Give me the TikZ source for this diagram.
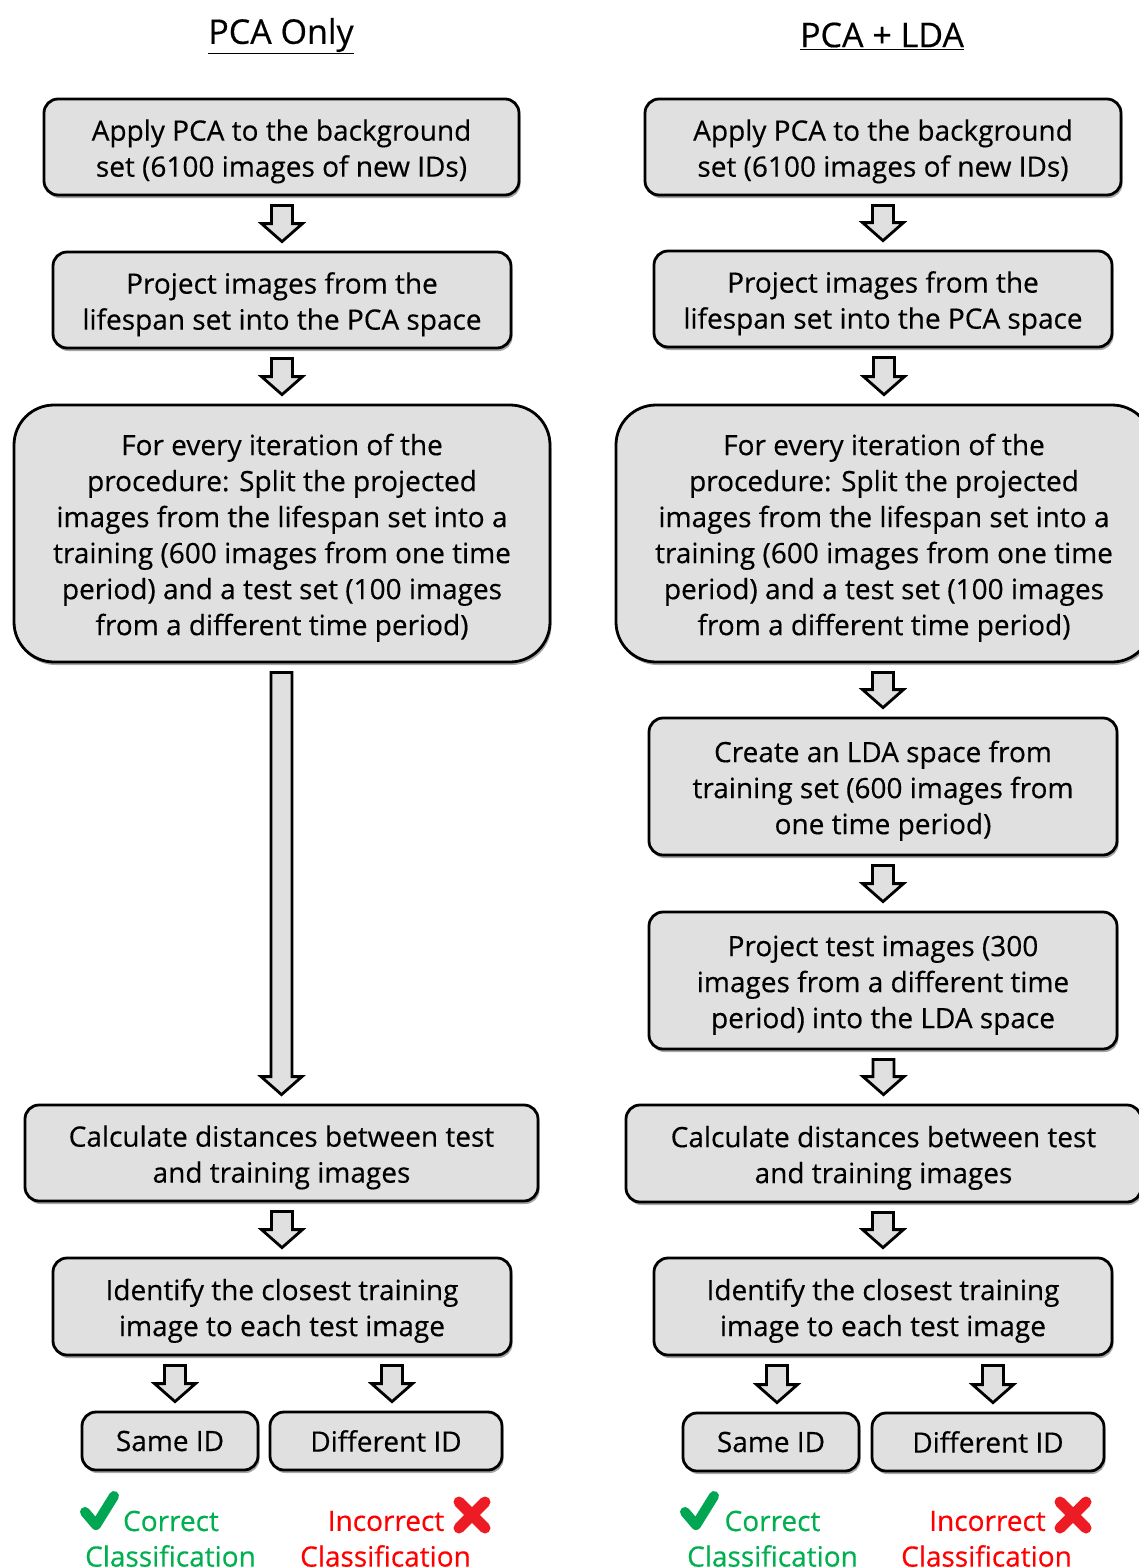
\documentclass[tikz,border=0pt]{standalone}
\usepackage{fontspec}
\setmainfont[FakeBold=0.4]{Open Sans}
\usetikzlibrary{calc,shadows}
\definecolor{boxgray}{HTML}{E0E0E0}
\definecolor{okgreen}{HTML}{00B050}
\definecolor{ckgreen}{HTML}{00A651}
\definecolor{badred}{HTML}{FF0000}
\definecolor{xred}{HTML}{ED1C24}
% strut that lowers a multi-line text block a little inside its box
\newcommand\tup{\rule{0pt}{30pt}}
% block arrow: #1 xshift (pt), #2 source node, #3 target node
\newcommand\barrow[3][0]{%
  \draw[blockarrow] let \p1=(#2.south), \p2=(#3.north) in
    ({\x2+#1pt-10.5pt},{\y1-9pt}) -- ({\x2+#1pt+10.5pt},{\y1-9pt})
    -- ({\x2+#1pt+10.5pt},{\y2+27pt}) -- ({\x2+#1pt+20.5pt},{\y2+27pt})
    -- ({\x2+#1pt},{\y2+9pt}) -- ({\x2+#1pt-20.5pt},{\y2+27pt})
    -- ({\x2+#1pt-10.5pt},{\y2+27pt}) -- cycle;}
\begin{document}
\begin{tikzpicture}[x=1pt,y=-1pt,
  box/.style={draw=black, line width=2.8pt, fill=boxgray, rounded corners=14pt,
    align=center, inner sep=0pt, font=\fontsize{28}{36}\selectfont,
    drop shadow={shadow xshift=1.5pt, shadow yshift=-3pt, opacity=0.35, fill=black}},
  bigbox/.style={box, rounded corners=40pt},
  blockarrow/.style={draw=black, line width=2.8pt, fill=boxgray, line join=miter},
  title/.style={font=\fontsize{34}{40}\selectfont, inner sep=0pt},
  oktext/.style={text=okgreen, font=\fontsize{28}{36}\selectfont, inner sep=0pt},
  badtext/.style={text=badred, font=\fontsize{28}{36}\selectfont, inner sep=0pt},
  tick/.style={draw=ckgreen, line width=10pt, line cap=round, line join=round},
  cross/.style={draw=xred, line width=11pt, line cap=round}]
\useasboundingbox[fill=white] (0,0) rectangle (1139,1567);

% ---------- left column: PCA only ----------
\node[title] (tl) at (281,36) {\underline{PCA Only}};
\node[box, minimum width=475pt, minimum height=96pt] (a1) at (281.5,147)
  {\tup Apply PCA to the background\\set (6100 images of new IDs)};
\node[box, minimum width=458pt, minimum height=96pt] (a2) at (282,300)
  {\tup Project images from the\\lifespan set into the PCA space};
\node[bigbox, minimum width=536pt, minimum height=257pt] (a3) at (282,533.5)
  {\tup For every iteration of the\\procedure: Split the projected\\images from the lifespan set into a\\training (600 images from one time\\period) and a test set (100 images\\from a different time period)};
\node[box, minimum width=513pt, minimum height=96pt] (a4) at (281.5,1153)
  {\tup Calculate distances between test\\and training images};
\node[box, minimum width=458pt, minimum height=97pt] (a5) at (282,1306.5)
  {\tup Identify the closest training\\image to each test image};
\node[box, minimum width=176pt, minimum height=58pt] (as) at (170,1441) {Same ID};
\node[box, minimum width=232pt, minimum height=58pt] (ad) at (386,1441) {Different ID};

\barrow{a1}{a2}
\barrow{a2}{a3}
\barrow{a3}{a4}
\barrow{a4}{a5}
\barrow[5]{a5}{as}
\barrow[6]{a5}{ad}

\draw[tick] (85,1512) -- (96,1525) -- (114,1496);
\node[oktext] (ac) at (171,1521) {Correct};
\node[oktext] (acc) at (170.5,1556) {Classification};
\node[badtext] (ai) at (386,1521) {Incorrect};
\draw[cross] (459,1502) -- (485,1528) (485,1502) -- (459,1528);
\node[badtext] (aic) at (385.5,1556) {Classification};

% ---------- right column: PCA + LDA ----------
\node[title] (tr) at (882,36) {\underline{PCA + LDA}};
\node[box, minimum width=476pt, minimum height=96pt] (b1) at (883,147)
  {\tup Apply PCA to the background\\set (6100 images of new IDs)};
\node[box, minimum width=458pt, minimum height=96pt] (b2) at (883,299)
  {\tup Project images from the\\lifespan set into the PCA space};
\node[bigbox, minimum width=536pt, minimum height=257pt] (b3) at (884,533.5)
  {\tup For every iteration of the\\procedure: Split the projected\\images from the lifespan set into a\\training (600 images from one time\\period) and a test set (100 images\\from a different time period)};
\node[box, minimum width=468pt, minimum height=137pt] (b4) at (883,786.5)
  {\tup Create an LDA space from\\training set (600 images from\\one time period)};
\node[box, minimum width=468pt, minimum height=137pt] (b5) at (883,980.5)
  {\tup Project test images (300\\images from a different time\\period) into the LDA space};
\node[box, minimum width=515pt, minimum height=97pt] (b6) at (883.5,1153.5)
  {\tup Calculate distances between test\\and training images};
\node[box, minimum width=458pt, minimum height=97pt] (b7) at (883,1306.5)
  {\tup Identify the closest training\\image to each test image};
\node[box, minimum width=176pt, minimum height=58pt] (bs) at (771,1442) {Same ID};
\node[box, minimum width=232pt, minimum height=58pt] (bd) at (988,1442) {Different ID};

\barrow{b1}{b2}
\barrow{b2}{b3}
\barrow{b3}{b4}
\barrow{b4}{b5}
\barrow{b5}{b6}
\barrow{b6}{b7}
\barrow[6]{b7}{bs}
\barrow[5]{b7}{bd}

\draw[tick] (685,1512) -- (696,1525) -- (714,1496);
\node[oktext] (bc) at (772.5,1521) {Correct};
\node[oktext] (bcc) at (772.5,1556) {Classification};
\node[badtext] (bi) at (987.5,1521) {Incorrect};
\draw[cross] (1060,1502) -- (1086,1528) (1086,1502) -- (1060,1528);
\node[badtext] (bic) at (986.5,1556) {Classification};
\end{tikzpicture}
\end{document}
